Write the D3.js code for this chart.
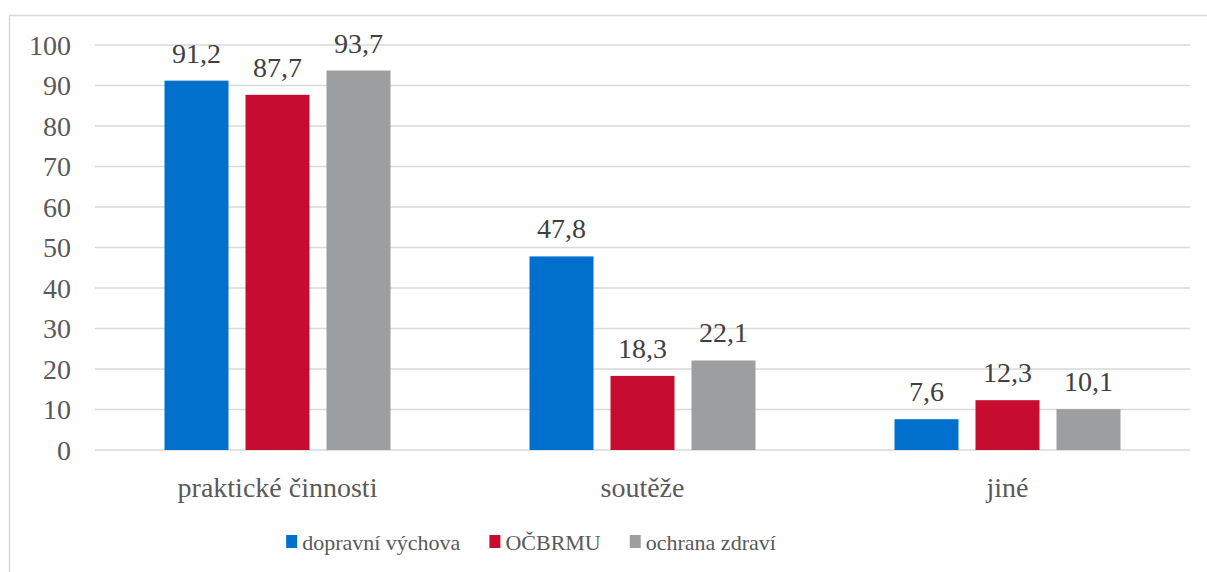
<!DOCTYPE html>
<html><head><meta charset="utf-8">
<script src="https://cdn.jsdelivr.net/npm/d3@7"></script>
<style>
body{margin:0;background:#fff;}
svg text{font-family:"Liberation Serif","Times New Roman",Tinos,serif;}
</style></head>
<body><svg id="c" width="1207" height="572"></svg>
<script>
const categories=["praktické činnosti","soutěže","jiné"];
const seriesNames=["dopravní výchova","OČBRMU","ochrana zdraví"];
const seriesColors=["#0070CC","#C60C30","#9D9EA0"];
const valuesDopravni=[91.2,47.8,7.6];
const valuesOCBRMU=[87.7,18.3,12.3];
const valuesOchrana=[93.7,22.1,10.1];
const yTicks=[0,10,20,30,40,50,60,70,80,90,100];

const FS=28, LFS=22;
const series=[valuesDopravni,valuesOCBRMU,valuesOchrana];
const svg=d3.select("#c");
svg.append("rect").attr("x",9.5).attr("y",15.5).attr("width",1210).attr("height",570)
  .attr("fill","none").attr("stroke","#D9D9D9").attr("stroke-width",1.5);

const m={l:95,r:1190,t:45,b:450};
const x0=d3.scaleBand().domain(categories).range([m.l,m.r]).paddingInner(0).paddingOuter(0);
const x1=d3.scaleBand().domain(d3.range(3)).range([69.5,365-69.5]).paddingInner(17/81).paddingOuter(0);
const y=d3.scaleLinear().domain([0,100]).range([m.b,m.t]);

svg.append("g").selectAll("line").data(yTicks).join("line")
  .attr("x1",m.l).attr("x2",m.r).attr("y1",d=>y(d)).attr("y2",d=>y(d))
  .attr("stroke","#D9D9D9").attr("stroke-width",1.5);

function addText(parent,x,yy,txt,anchor,fill,fs){
  return parent.append("text").attr("x",x).attr("y",yy).attr("text-anchor",anchor)
    .style("font-family","Liberation Serif").attr("font-size",fs||FS).attr("fill",fill).text(txt);
}

const yAxisG=svg.append("g");
yTicks.forEach(t=>addText(yAxisG,m.l-24,y(t)+9.5,String(t),"end","#595959"));

const fmt=v=>v.toFixed(1).replace(".",",");
categories.forEach((c,ci)=>{
  series.forEach((s,si)=>{
    const bx=x0(c)+x1(si);
    svg.append("rect").attr("x",bx).attr("width",x1.bandwidth())
      .attr("y",y(s[ci])).attr("height",y(0)-y(s[ci])).attr("fill",seriesColors[si]);
    addText(svg,bx+x1.bandwidth()/2,y(s[ci])-18,fmt(s[ci]),"middle","#404040");
  });
  addText(svg,x0(c)+x0.bandwidth()/2,m.b+47,c,"middle","#595959");
});

// legend, laid out from measured text widths, centred like the reference
const leg=svg.append("g");
const items=seriesNames.map((n,i)=>{
  const r=leg.append("rect").attr("y",535).attr("width",11).attr("height",13).attr("fill",seriesColors[i]);
  const t=addText(leg,0,550,n,"start","#595959",LFS);
  return {r,t,w:t.node().getComputedTextLength()};
});
const gap=29, sq=16;
const total=d3.sum(items,d=>sq+d.w)+gap*(items.length-1);
let cx=531-total/2;
items.forEach(d=>{
  d.r.attr("x",cx); d.t.attr("x",cx+sq);
  cx+=sq+d.w+gap;
});
</script></body></html>
